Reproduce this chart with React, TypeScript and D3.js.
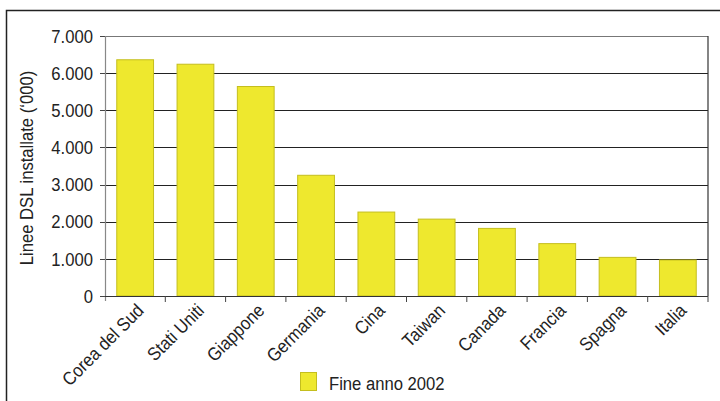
import React from "react";
import * as d3 from "d3";

const categories = ["Corea del Sud", "Stati Uniti", "Giappone", "Germania", "Cina", "Taiwan", "Canada", "Francia", "Spagna", "Italia"];
const values = [6360, 6240, 5640, 3250, 2260, 2070, 1820, 1410, 1040, 970];
const yTicks = [0, 1000, 2000, 3000, 4000, 5000, 6000, 7000];
const seriesName = "Fine anno 2002";
const yTitle = "Linee DSL installate (‘000)";

const W = 720, H = 401;
const m = { left: 105, right: 708, top: 36, bottom: 296 };
const FONT = "'Liberation Sans', Arial, sans-serif";
const FS = 18.5;
const SX = 0.9;

export default function App() {
  const x = d3.scaleBand<string>().domain(categories).range([m.left, m.right]).paddingInner(0.39).paddingOuter(0.195);
  const xStep = d3.scaleBand<string>().domain(categories).range([m.left, m.right]);
  const y = d3.scaleLinear().domain([0, 7000]).range([m.bottom, m.top]);
  const fmt = (v: number) => d3.format(",")(v).replace(/,/g, ".");
  return (
    <svg width={W} height={H} style={{ position: "absolute", left: 0, top: 0, background: "#fff" }} fontFamily={FONT}>
      <rect x={6.5} y={10.5} width={730} height={420} fill="none" stroke="#222" strokeWidth={1.5} />
      {yTicks.map((t) => (
        <g key={t}>
          {t > 0 && t < 7000 && (
            <line x1={m.left} x2={m.right} y1={Math.round(y(t)) + 0.5} y2={Math.round(y(t)) + 0.5} stroke="#222" strokeWidth={1} />
          )}
          <line x1={m.left - 5} x2={m.left} y1={Math.round(y(t)) + 0.5} y2={Math.round(y(t)) + 0.5} stroke="#444" />
          <text transform={`translate(${m.left - 12},${y(t)}) scale(${SX},1)`} dy="0.36em" textAnchor="end" fontSize={FS} fill="#222">{fmt(t)}</text>
        </g>
      ))}
      <line x1={m.left} x2={m.right} y1={Math.round(y(7000)) + 0.5} y2={Math.round(y(7000)) + 0.5} stroke="#777" strokeWidth={1.2} />
      <line x1={m.right} x2={m.right} y1={y(7000)} y2={m.bottom} stroke="#333" strokeWidth={1.2} />
      {categories.map((c, i) => (
        <rect key={c} x={x(c)!} y={y(values[i])} width={x.bandwidth()} height={m.bottom - y(values[i])} fill="#EEE82E" stroke="#C4BE1E" strokeWidth={1} />
      ))}
      <line x1={m.left + 0.5} x2={m.left + 0.5} y1={y(7000)} y2={m.bottom + 5} stroke="#888" strokeWidth={1.2} />
      <line x1={m.left} x2={m.right} y1={m.bottom + 0.5} y2={m.bottom + 0.5} stroke="#333" strokeWidth={1.2} />
      {categories.map((c) => (
        <line key={c} x1={xStep(c)! + xStep.bandwidth()} x2={xStep(c)! + xStep.bandwidth()} y1={m.bottom} y2={m.bottom + 6} stroke="#444" />
      ))}
      {categories.map((c) => {
        const cx = x(c)! + x.bandwidth() / 2 + 5;
        const cy = m.bottom + 11;
        return (
          <text key={c} transform={`translate(${cx},${cy}) rotate(-45) scale(${SX},1)`} textAnchor="end" dy="0.36em" fontSize={FS} fill="#222">{c}</text>
        );
      })}
      <text transform={`translate(33,${(m.top + m.bottom) / 2 + 2}) rotate(-90) scale(${SX},1)`} textAnchor="middle" fontSize={FS} fill="#222">{yTitle}</text>
      <rect x={300.5} y={372.5} width={16} height={18} fill="#EEE82E" stroke="#C4BE1E" />
      <text transform={`translate(329,390) scale(${SX},1)`} fontSize={FS} fill="#222">{seriesName}</text>
    </svg>
  );
}
